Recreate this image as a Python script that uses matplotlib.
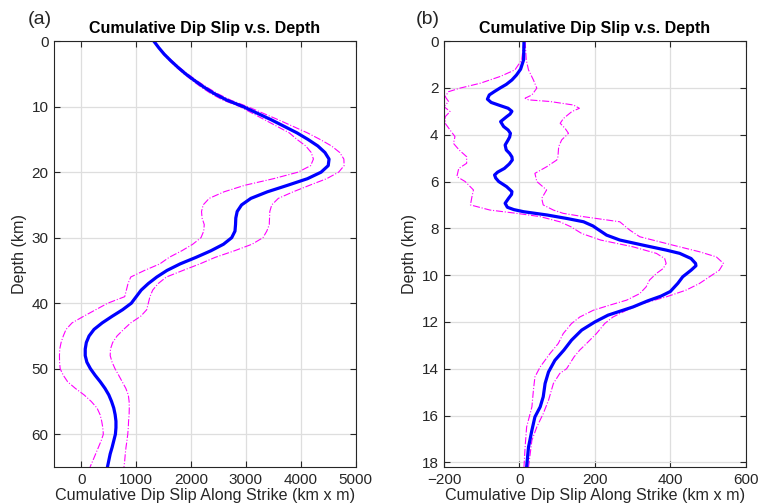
import matplotlib
matplotlib.use("Agg")
import matplotlib.pyplot as plt

plt.rcParams['font.family'] = ['Liberation Sans', 'DejaVu Sans']

# ---- panel (a) : depth (km) vs cumulative dip slip (km x m)
depth_a = [0, 1, 2, 3, 4, 5, 6, 7, 8, 9, 10, 12, 14, 15, 16, 17, 18, 19, 20, 21,
           22, 23, 24, 25, 26, 27, 28, 29, 30, 31, 32, 33, 34, 35, 36, 37, 38, 39,
           40, 41, 42, 43, 44, 45, 46, 47, 48, 49, 50, 51, 52, 53, 54, 55, 56, 57,
           58, 59, 60, 61, 62, 63, 64, 65]
slip_a = [1320, 1410, 1510, 1630, 1760, 1900, 2060, 2230, 2420, 2650, 2950, 3460,
          3930, 4130, 4310, 4440, 4515, 4500, 4370, 4120, 3760, 3390, 3090, 2920,
          2840, 2815, 2810, 2800, 2740, 2590, 2360, 2090, 1800, 1560, 1375, 1220,
          1090, 1000, 910, 750, 560, 380, 230, 140, 90, 70, 70, 100, 165, 250, 345,
          430, 500, 550, 590, 615, 630, 630, 620, 590, 560, 525, 500, 475]
low_a = [1320, 1400, 1495, 1610, 1735, 1870, 2020, 2180, 2360, 2580, 2890, 3340,
         3790, 3930, 4090, 4190, 4230, 4180, 3950, 3500, 2980, 2600, 2330, 2220,
         2190, 2200, 2240, 2230, 2180, 2030, 1830, 1600, 1430, 1150, 900, 850, 820,
         790, 480, 260, 40, -170, -280, -330, -370, -395, -400, -398, -387, -330,
         -250, -110, 50, 180, 285, 340, 370, 390, 400, 360, 310, 260, 210, 158]
high_a = [1330, 1420, 1525, 1650, 1785, 1935, 2100, 2280, 2480, 2720, 3030, 3590,
          4120, 4350, 4560, 4710, 4785, 4790, 4690, 4470, 4160, 3860, 3590, 3470,
          3435, 3430, 3425, 3380, 3310, 3110, 2790, 2440, 2160, 1850, 1550, 1400,
          1300, 1250, 1220, 1190, 1080, 900, 770, 650, 570, 530, 525, 560, 613, 680,
          745, 810, 855, 870, 873, 870, 860, 855, 845, 830, 813, 800, 790, 776]

# ---- panel (b)
depth_b = [0, 0.8, 1.2, 1.45, 1.66, 1.85, 2.0, 2.15, 2.3, 2.48, 2.62, 2.75, 2.87,
           3.0, 3.12, 3.23, 3.44, 3.65, 3.8, 3.94, 4.1, 4.22, 4.44, 4.65, 4.8, 4.95,
           5.08, 5.25, 5.44, 5.6, 5.72, 5.85, 6.0, 6.22, 6.43, 6.55, 6.72, 6.93,
           7.1, 7.2, 7.29, 7.43, 7.58, 7.72, 7.9, 8.0, 8.15, 8.29, 8.5, 8.72, 8.93,
           9.07, 9.29, 9.5, 9.6, 9.79, 10.07, 10.35, 10.7, 10.9, 11.1, 11.36,
           11.71, 12.0, 12.35, 12.78, 13.2, 13.64, 14.14, 14.63, 15.2, 15.63,
           16.06, 16.63, 17.35, 18.2]
slip_b = [12, 11, 3, -8, -20, -35, -51, -66, -80, -85, -75, -52, -30, -20, -25,
          -34, -50, -42, -30, -24, -26, -30, -38, -35, -26, -20, -19, -27, -40,
          -58, -66, -63, -55, -34, -20, -21, -29, -38, -32, -15, 11, 73, 126, 170,
          195, 204, 218, 231, 266, 328, 389, 425, 455, 467, 468, 455, 433, 420,
          400, 375, 340, 301, 235, 200, 165, 138, 118, 94, 77, 68, 63, 55, 41, 33,
          24, 19]

depth_b_low = [0, 0.8, 1.23, 1.51, 1.8, 2.01, 2.16, 2.37, 2.58, 2.8, 3.01, 3.23,
               3.51, 3.8, 4.08, 4.37, 4.65, 4.94, 5.22, 5.44, 5.79, 6.0, 6.36, 6.65,
               7.0, 7.22, 7.36, 7.5, 7.72, 7.93, 8.22, 8.5, 8.79, 9.07, 9.29, 9.5,
               9.72, 9.93, 10.21, 10.5, 10.79, 11.07, 11.28, 11.5, 11.79, 12.07,
               12.5, 12.92, 13.35, 13.92, 14.35, 14.92, 15.63, 16.49, 17.35, 18.2]
low_b = [12, 6, -12, -51, -104, -158, -188, -197, -188, -200, -184, -197, -197,
         -184, -171, -175, -160, -140, -140, -161, -166, -144, -122, -126, -130,
         -78, -7, 55, 107, 136, 165, 215, 301, 363, 385, 389, 381, 363, 345, 336,
         319, 284, 240, 196, 160, 138, 116, 103, 81, 55, 41, 37, 33, 19, 15, 12]

depth_b_high = [0, 0.8, 1.23, 1.66, 2.01, 2.3, 2.44, 2.51, 2.58, 2.73, 2.87, 3.01,
                3.3, 3.51, 3.73, 3.94, 4.22, 4.51, 4.94, 5.08, 5.37, 5.65, 6.0,
                6.36, 6.72, 7.0, 7.22, 7.36, 7.5, 7.72, 8.07, 8.36, 8.72, 9.0, 9.22,
                9.5, 9.79, 10.07, 10.36, 10.64, 10.93, 11.21, 11.5, 11.79, 12.07,
                12.5, 12.92, 13.2, 13.49, 14.0, 14.2, 14.63, 15.35, 15.92, 16.49,
                17.06, 18.2]
high_b = [15, 18, 24, 37, 46, 33, 15, 24, 81, 143, 159, 139, 117, 108, 121, 130,
          112, 104, 102, 99, 72, 41, 46, 72, 59, 63, 90, 116, 169, 266, 292, 319,
          407, 477, 522, 541, 530, 504, 477, 442, 389, 328, 284, 248, 226, 204,
          178, 160, 145, 125, 107, 90, 77, 63, 46, 33, 24]

title = "Cumulative Dip Slip v.s. Depth"
xlabel = "Cumulative Dip Slip Along Strike (km x m)"
ylabel = "Depth (km)"

fig = plt.figure(figsize=(7.58, 5.04), dpi=100)
ax_a = fig.add_axes([0.0712, 0.0734, 0.398, 0.845])
ax_b = fig.add_axes([0.5858, 0.0734, 0.398, 0.845])

magenta = (1, 0, 1)
blue = (0, 0, 1)
dark = (0.15, 0.15, 0.15)


def style(ax):
    ax.grid(True, color=(0.87, 0.87, 0.87), linewidth=0.9)
    ax.set_axisbelow(True)
    ax.tick_params(direction="in", length=4, width=0.8, top=True, right=True,
                   labelsize=11, colors=dark, pad=4)
    for s in ax.spines.values():
        s.set_color(dark)
        s.set_linewidth(0.8)
    ax.set_title(title, fontsize=11.5, fontweight="bold", pad=6)
    ax.set_xlabel(xlabel, fontsize=11.6, labelpad=1, color=dark)
    ax.set_ylabel(ylabel, fontsize=11.6, labelpad=3, color=dark)


# (a)
ax_a.plot(low_a, depth_a, color=magenta, linestyle="-.", linewidth=0.8)
ax_a.plot(high_a, depth_a, color=magenta, linestyle="-.", linewidth=0.8)
ax_a.plot(slip_a, depth_a, color=blue, linewidth=2.3)
ax_a.set_xlim(-500, 5000)
ax_a.set_ylim(65, 0)
ax_a.set_xticks([0, 1000, 2000, 3000, 4000, 5000])
ax_a.set_yticks([0, 10, 20, 30, 40, 50, 60])
style(ax_a)

# (b)
ax_b.plot(low_b, depth_b_low, color=magenta, linestyle="-.", linewidth=0.8)
ax_b.plot(high_b, depth_b_high, color=magenta, linestyle="-.", linewidth=0.8)
ax_b.plot(slip_b, depth_b, color=blue, linewidth=2.3)
ax_b.set_xlim(-200, 600)
ax_b.set_ylim(18.2, 0)
ax_b.set_xticks([-200, 0, 200, 400, 600])
ax_b.set_yticks(range(0, 19, 2))
style(ax_b)

fig.text(40 / 758, 1 - 20 / 504, "(a)", fontsize=14, ha="center", va="center",
         color=dark)
fig.text(428 / 758, 1 - 20 / 504, "(b)", fontsize=14, ha="center", va="center",
         color=dark)

fig.savefig("out.png", dpi=100)
